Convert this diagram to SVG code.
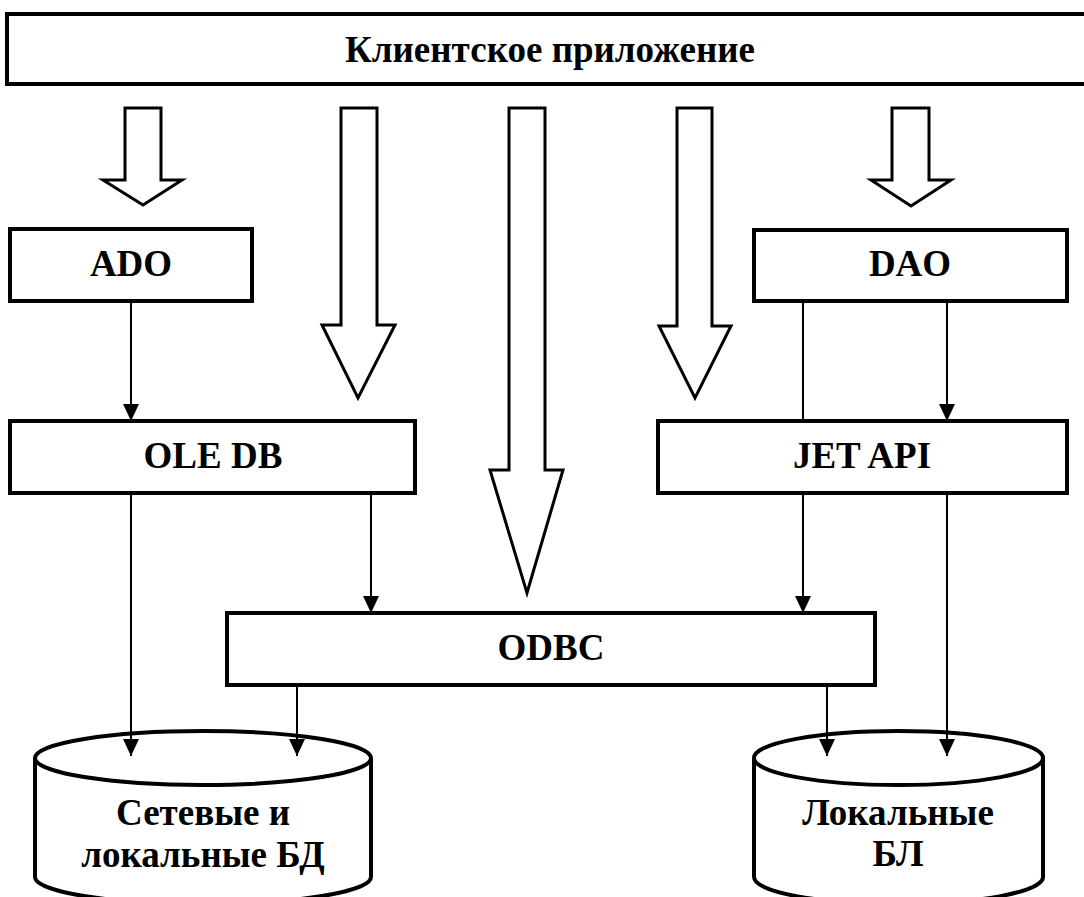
<svg xmlns="http://www.w3.org/2000/svg" width="1084" height="897" viewBox="0 0 1084 897">
  <style>
    .box { fill: #fff; stroke: #000; stroke-width: 4; }
    .big { fill: #fff; stroke: #000; stroke-width: 3; stroke-linejoin: miter; }
    .cyl { fill: #fff; stroke: #000; stroke-width: 4; }
    .wire { stroke: #000; stroke-width: 2; fill: none; }
    .lbl { font-family: "Liberation Serif", "Times New Roman", serif; font-weight: bold; font-size: 37px; text-anchor: middle; fill: #000; }
  </style>
  <defs>
    <marker id="tip" markerUnits="userSpaceOnUse" markerWidth="17" markerHeight="16" refX="17" refY="8" orient="auto" viewBox="0 0 17 16">
      <path d="M0,0 L17,8 L0,16 Z" fill="#000"/>
    </marker>
  </defs>
  <rect width="1084" height="897" fill="#fff"/>

  <g id="client">
    <rect class="box" x="7" y="14" width="1090" height="70"/>
    <text class="lbl" x="550" y="62">Клиентское приложение</text>
  </g>

  <!-- wide hollow arrows from the client application -->
  <g id="wide-arrows">
    <path class="big" d="M125,108 H161 V180 H182 L143,205 L103,180 H125 Z"/>
    <path class="big" d="M341,108 H377 V325 H395 L358,398 L322,325 H341 Z"/>
    <path class="big" d="M509,108 H545 V470 H563 L527,593 L490,470 H509 Z"/>
    <path class="big" d="M677,108 H712 V326 H731 L695,398 L659,326 H677 Z"/>
    <path class="big" d="M892,108 H929 V180 H951 L911,206 L871,180 H892 Z"/>
  </g>

  <g id="ado">
    <rect class="box" x="10" y="229" width="242" height="72"/>
    <text class="lbl" x="131" y="276">ADO</text>
  </g>
  <g id="dao">
    <rect class="box" x="754" y="230" width="313" height="71"/>
    <text class="lbl" x="910" y="276">DAO</text>
  </g>
  <g id="oledb">
    <rect class="box" x="10" y="421" width="405" height="72"/>
    <text class="lbl" x="213" y="468">OLE DB</text>
  </g>
  <g id="jetapi">
    <rect class="box" x="658" y="421" width="409" height="72"/>
    <text class="lbl" x="862" y="468">JET API</text>
  </g>
  <g id="odbc">
    <rect class="box" x="227" y="613" width="648" height="72"/>
    <text class="lbl" x="551" y="660">ODBC</text>
  </g>

  <g id="db-network">
    <path class="cyl" d="M35,758 V877 A168,27 0 0 0 371,877 V758"/>
    <ellipse class="cyl" cx="203" cy="758" rx="168" ry="27"/>
    <text class="lbl" x="203" y="825">Сетевые и</text>
    <text class="lbl" x="203" y="867">локальные БД</text>
  </g>
  <g id="db-local">
    <path class="cyl" d="M754,758 V877 A144.5,27 0 0 0 1043,877 V758"/>
    <ellipse class="cyl" cx="898.5" cy="758" rx="144.5" ry="27"/>
    <text class="lbl" x="898" y="825">Локальные</text>
    <text class="lbl" x="898" y="866">БЛ</text>
  </g>

  <g id="connectors">
    <line class="wire" x1="131" y1="301" x2="131" y2="421" marker-end="url(#tip)"/>
    <line class="wire" x1="803" y1="301" x2="803" y2="421"/>
    <line class="wire" x1="947" y1="301" x2="947" y2="421" marker-end="url(#tip)"/>
    <line class="wire" x1="371" y1="493" x2="371" y2="613" marker-end="url(#tip)"/>
    <line class="wire" x1="803" y1="493" x2="803" y2="613" marker-end="url(#tip)"/>
    <line class="wire" x1="131" y1="493" x2="131" y2="756" marker-end="url(#tip)"/>
    <line class="wire" x1="947" y1="493" x2="947" y2="756" marker-end="url(#tip)"/>
    <line class="wire" x1="297" y1="685" x2="297" y2="756" marker-end="url(#tip)"/>
    <line class="wire" x1="827" y1="685" x2="827" y2="756" marker-end="url(#tip)"/>
  </g>
</svg>
